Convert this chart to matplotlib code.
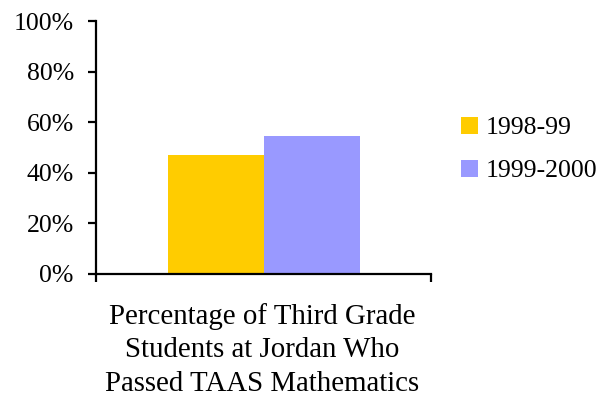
import matplotlib
matplotlib.use("Agg")
import matplotlib.pyplot as plt
from matplotlib.patches import Patch

# data
SERIES = ["1998-99", "1999-2000"]
PASS_RATE = [47.1, 54.6]
COLORS = ["#FFCC00", "#9999FF"]
Y_TICKS = [0, 20, 40, 60, 80, 100]
X_LABEL = "Percentage of Third Grade\nStudents at Jordan Who\nPassed TAAS Mathematics"

FONT = "Liberation Serif"
plt.rcParams["font.family"] = FONT

fig = plt.figure(figsize=(6.1, 4.0), dpi=100)
ax = fig.add_axes([96 / 610, 126 / 400, 335 / 610, 253 / 400])

bar_w = 96 / 335
for i, (name, val, col) in enumerate(zip(SERIES, PASS_RATE, COLORS)):
    x = 0.5 + (i - 0.5) * bar_w
    ax.bar(x, val, width=bar_w, color=col, label=name)

ax.set_xlim(0, 1)
ax.set_ylim(0, 100)
ax.set_yticks(Y_TICKS)
ax.set_yticklabels([f"{t}%" for t in Y_TICKS], fontsize=18.5)
ax.set_xticks([0, 1])
ax.set_xticklabels(["", ""])

for side in ["top", "right"]:
    ax.spines[side].set_visible(False)
for side in ["left", "bottom"]:
    ax.spines[side].set_linewidth(1.6)
ax.tick_params(axis="both", direction="out", length=6, width=1.6, pad=10)

# category caption under the axis
fig.text(262 / 610, 1 - 350 / 400, X_LABEL, ha="center", va="center",
         fontsize=20.8, linespacing=1.37)

handles = [Patch(facecolor=c, edgecolor="none") for c in COLORS]
fig.legend(handles, SERIES, loc="center left", bbox_to_anchor=(461 / 610, 1 - 149.5 / 400),
           frameon=False, fontsize=18.5, handlelength=0.65, handleheight=0.65,
           handletextpad=0.3, labelspacing=0.8, borderaxespad=0, borderpad=0)

plt.savefig("out.png", dpi=100)
plt.close()
